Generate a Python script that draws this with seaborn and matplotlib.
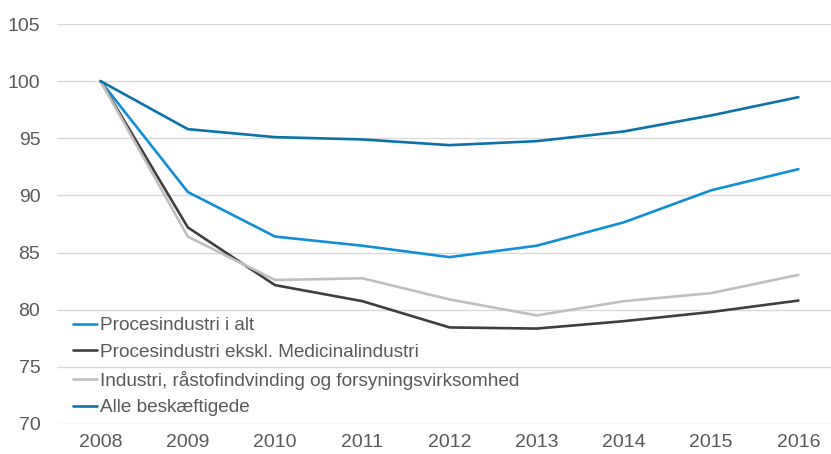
import pandas as pd
import matplotlib.pyplot as plt
import seaborn as sns

years = [2008, 2009, 2010, 2011, 2012, 2013, 2014, 2015, 2016]
proces_alt = [100, 90.3, 86.4, 85.6, 84.6, 85.6, 87.65, 90.45, 92.3]
proces_ekskl = [100, 87.2, 82.15, 80.75, 78.45, 78.35, 79.0, 79.8, 80.8]
industri = [100, 86.4, 82.6, 82.75, 80.9, 79.5, 80.75, 81.45, 83.05]
alle = [100, 95.8, 95.1, 94.9, 94.4, 94.75, 95.6, 97.0, 98.6]

names = ["Procesindustri i alt",
         "Procesindustri ekskl. Medicinalindustri",
         "Industri, råstofindvinding og forsyningsvirksomhed",
         "Alle beskæftigede"]
colors = ["#0F8FD6", "#3F3F3F", "#BFBFBF", "#0A73A8"]

rows = []
for name, vals in zip(names, [proces_alt, proces_ekskl, industri, alle]):
    for i, v in enumerate(vals):
        rows.append({"pos": i, "year": years[i], "serie": name, "index": v})
d = pd.DataFrame(rows)

sns.set_style("white")
plt.rcParams['font.family'] = ['Liberation Sans', 'DejaVu Sans']

fig = plt.figure(figsize=(8.31, 4.54), dpi=100)
ax = fig.add_axes([57/831, 30/454, 785/831, 400/454])

sns.lineplot(data=d, x="pos", y="index", hue="serie", hue_order=names,
             palette=colors, linewidth=1.9, ax=ax, sort=False)

ax.set_xlim(-0.5, 8.5)
ax.set_ylim(70, 105)
ax.set_yticks(range(70, 106, 5))
ax.set_xticks(range(len(years)))
ax.set_xticklabels(years)
ax.grid(axis="y", color="#D9D9D9", linewidth=1)
ax.set_axisbelow(True)
for s in ax.spines.values():
    s.set_visible(False)
ax.tick_params(axis="both", length=0, labelsize=14, colors="#595959")
ax.tick_params(axis="y", pad=12)
ax.tick_params(axis="x", pad=7)
ax.set_xlabel("")
ax.set_ylabel("")

leg = ax.legend(loc="lower left", bbox_to_anchor=(0.011, 0.0), frameon=False,
                fontsize=13.7, handlelength=1.25, handletextpad=0.15,
                labelspacing=0.5, borderaxespad=0.0)
for t in leg.get_texts():
    t.set_color("#595959")

plt.savefig("out.png", dpi=100)
